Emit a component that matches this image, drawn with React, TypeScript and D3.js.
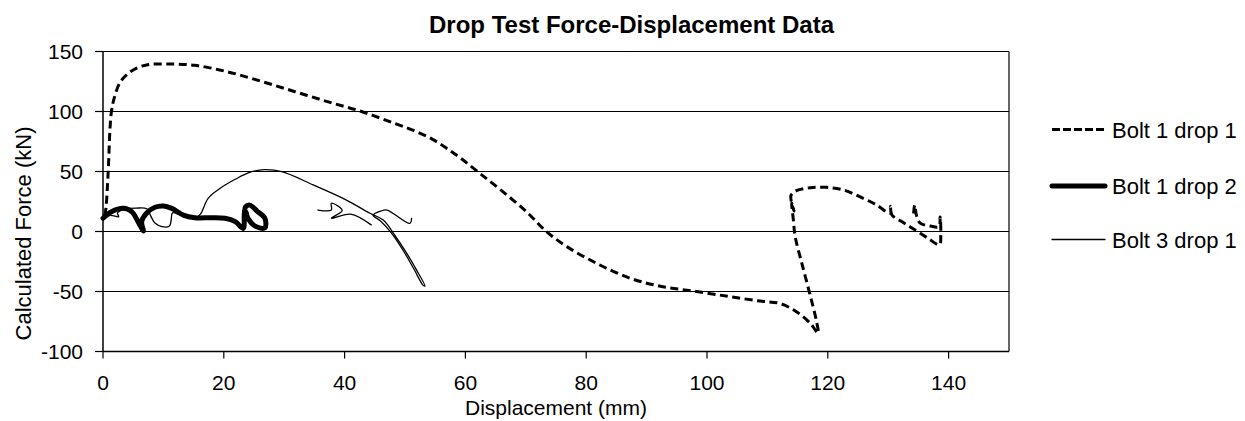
import React from "react";
import * as d3 from "d3";

type P = [number, number] | null;

const title = "Drop Test Force-Displacement Data";
const xLabel = "Displacement (mm)";
const yLabel = "Calculated Force (kN)";
const xTicks = [0, 20, 40, 60, 80, 100, 120, 140];
const yTicks = [-100, -50, 0, 50, 100, 150];
const seriesNames = ["Bolt 1 drop 1", "Bolt 1 drop 2", "Bolt 3 drop 1"];

const bolt1drop1: P[] = [
  [0.3, 13], [0.5, 20], [0.7, 35], [0.9, 54], [1.15, 85], [1.4, 100], [1.9, 112], [2.8, 124],
  [4, 131], [5.5, 136], [7.4, 139], [10.8, 139.6], [15.2, 138.5], [20.7, 133], [26.3, 125],
  [31.8, 116.5], [37.3, 108], [42.8, 100], [48.3, 90], [51.5, 84], [54.5, 77], [57, 69], [59.5, 60],
  [62.5, 48], [66, 34], [70, 17], [73.4, 0], [76.8, -12.6], [81.7, -26.5],
  [87.3, -39], [92.7, -46], [98.3, -50], [103.8, -54.3], [108.8, -58], [112.1, -60],
  [114.8, -66.8], [117.1, -76.5], [118.4, -84.8], [118.2, -76.5], [117, -51.5], [115.7, -26.5],
  [114.6, -4.3], [114.3, 9.6], [114.0, 24], [114.4, 17], [113.9, 30], [114.8, 34], [117.1, 36.5],
  [119.8, 36.8], [122.6, 34.6], [125.3, 29], [128.1, 22], [130.3, 15.2], [130.4, 21], [130.6, 14],
  [132.5, 7.5], [134.4, 1.5], [136.4, -5], [138.5, -11], [138.7, -3], [138.6, 12], [138.4, 4],
  [137, 4.5], [135.3, 7], [134.7, 13], [134.4, 22], [134.2, 15],
];

const bolt1drop2: P[] = [
  [0, 11], [1.4, 16.5], [3.4, 19.3], [4.75, 16.5], [5.8, 8.2], [6.7, 0.5], [6.4, 8.2], [7.2, 15.2],
  [8.6, 20.2], [10, 21.3], [11.4, 19.3], [13.3, 13.7], [15.2, 11.5], [18, 11.5], [20.2, 11],
  [21.9, 8.2], [23.2, 2.6], [23.4, 15], [23.6, 20.5], [24.3, 22], [25.5, 17], [26.8, 11],
  [26.8, 3], [25.2, 4.5], [24, 11], [23.7, 16],
];

const bolt3drop1: P[] = [
  [0, 11], [1.2, 13.5], [2.6, 12.3], [2.4, 15.5], [3.5, 18.5], [5.5, 19.5], [7.3, 18.8],
  [7.9, 13], [8.6, 7], [9.8, 4], [11, 4.6], [11.3, 10], [11.5, 15.5], [13, 13.5], [15.5, 12],
  [16.2, 15], [17.4, 27.6], [19.4, 36], [21.9, 43.5], [24.6, 49.8], [26.8, 51.5], [29.6, 49.8],
  [34.8, 38.8], [40.3, 26.2], [44.2, 15.2], [46.4, 9.6], [48.1, -1.5], [50.3, -18.2], [51.9, -32],
  [53.3, -45.4], [53.0, -44.8], [51.5, -31.5], [49.9, -17.5], [47.7, -1], [45.9, 9], [44.7, 13.5],
  [46, 17], [47, 17.9], [50.8, 6.8], [51.1, 11], null,
  [44.4, 5.5], [41, 14.5], [37.8, 11], [39.6, 17.5], [37.8, 23.5], [37.8, 17.9], [35.6, 17.9],
];

const W = 1245;
const H = 421;
const left = 103;
const right = 1009;
const top = 51.5;
const bottom = 351.5;
const font = "'Liberation Sans', Arial, sans-serif";

export default function App() {
  const x = d3.scaleLinear().domain([0, 150]).range([left, right]);
  const y = d3.scaleLinear().domain([-100, 150]).range([bottom, top]);
  const line = d3
    .line<P>()
    .defined((d) => d !== null)
    .x((d) => x((d as [number, number])[0]))
    .y((d) => y((d as [number, number])[1]))
    .curve(d3.curveCatmullRom.alpha(0.5));

  const series = [
    { name: seriesNames[0], data: bolt1drop1, width: 3, dash: "8,4.5" },
    { name: seriesNames[1], data: bolt1drop2, width: 5, dash: undefined },
    { name: seriesNames[2], data: bolt3drop1, width: 1.3, dash: undefined },
  ];
  const legendY = [129.5, 186, 239.5];

  return (
    <svg
      width={W}
      height={H}
      style={{ position: "absolute", left: 0, top: 0, background: "#fff" }}
      fontFamily={font}
    >
      <rect x={0} y={0} width={W} height={H} fill="#fff" />
      <text x={631.5} y={33} textAnchor="middle" fontWeight="bold" fontSize={24}>
        {title}
      </text>
      {yTicks.map((t) => (
        <g key={"y" + t}>
          <line x1={left} x2={right} y1={y(t)} y2={y(t)} stroke="#000" strokeWidth={1.2} />
          <line x1={left - 8} x2={left} y1={y(t)} y2={y(t)} stroke="#000" strokeWidth={1.2} />
          <text x={83} y={y(t) + 7.5} textAnchor="end" fontSize={21}>
            {t}
          </text>
        </g>
      ))}
      <line x1={right} x2={right} y1={top} y2={bottom} stroke="#000" strokeWidth={1.2} />
      <line x1={left} x2={left} y1={top} y2={bottom} stroke="#000" strokeWidth={1.5} />
      <line x1={left} x2={right} y1={bottom} y2={bottom} stroke="#000" strokeWidth={1.5} />
      {xTicks.map((t) => (
        <g key={"x" + t}>
          <line x1={x(t)} x2={x(t)} y1={bottom} y2={bottom + 7} stroke="#000" strokeWidth={1.2} />
          <text x={x(t)} y={389.5} textAnchor="middle" fontSize={21}>
            {t}
          </text>
        </g>
      ))}
      <text x={(left + right) / 2} y={415} textAnchor="middle" fontSize={21}>
        {xLabel}
      </text>
      <text
        transform={`translate(31,233.5) rotate(-90)`}
        textAnchor="middle"
        fontSize={22}
      >
        {yLabel}
      </text>
      {series.map((s) => (
        <path
          key={s.name}
          d={line(s.data) || ""}
          fill="none"
          stroke="#000"
          strokeWidth={s.width}
          strokeDasharray={s.dash}
          strokeLinejoin="round"
          strokeLinecap={s.dash ? "butt" : "round"}
        />
      ))}
      {series.map((s, i) => (
        <g key={"lg" + i}>
          <line
            x1={1052}
            x2={1105}
            y1={legendY[i]}
            y2={legendY[i]}
            stroke="#000"
            strokeWidth={s.width}
            strokeDasharray={s.dash ? "8,3" : undefined}
            strokeLinecap={s.dash ? "butt" : "round"}
          />
          <text x={1112} y={legendY[i] + 8} fontSize={22}>
            {s.name}
          </text>
        </g>
      ))}
    </svg>
  );
}
